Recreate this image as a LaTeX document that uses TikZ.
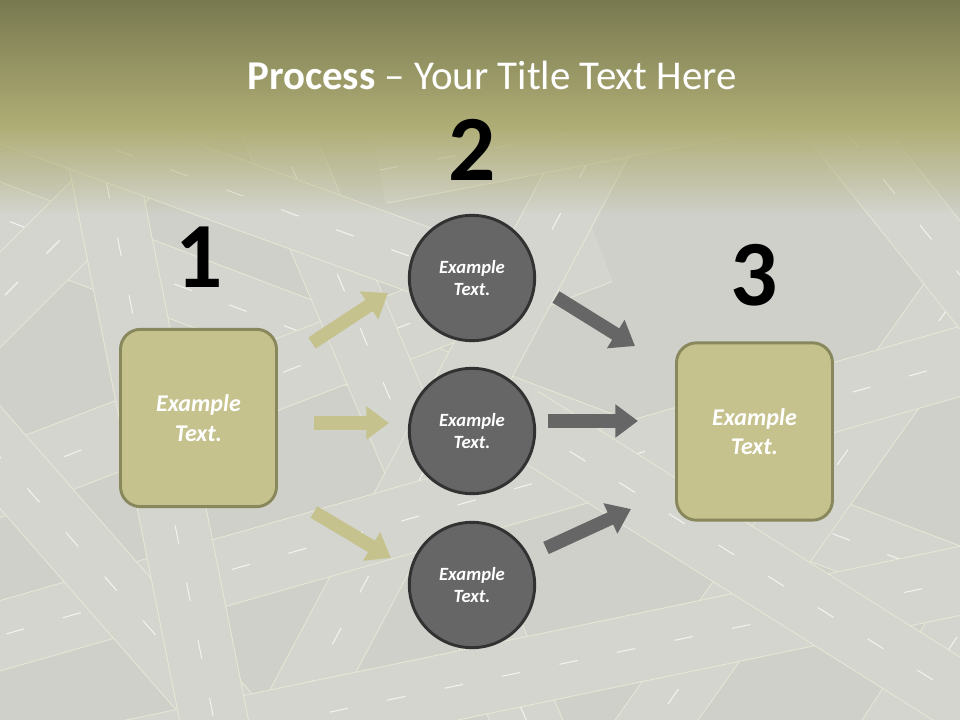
\documentclass[tikz,border=0pt]{standalone}
\usepackage{fontspec}
\setmainfont{Carlito}
\usetikzlibrary{shapes,arrows.meta,fadings}

\definecolor{bggray}{RGB}{207,208,201}
\definecolor{roadfill}{RGB}{212,213,207}
\definecolor{roadedge}{RGB}{232,232,214}
\definecolor{oliveTop}{RGB}{120,121,80}
\definecolor{oliveBand}{RGB}{176,174,118}
\definecolor{boxfill}{RGB}{197,194,141}
\definecolor{boxedge}{RGB}{136,136,92}
\definecolor{circfill}{RGB}{102,102,102}
\definecolor{circedge}{RGB}{50,50,50}

\tikzfading[name=fadedown, top color=transparent!0, bottom color=transparent!100]

\tikzset{
  road/.style={draw=roadedge, line width=0.7pt, double=roadfill, double distance=50pt},
  roadmark/.style={white, line width=0.8pt, opacity=0.7, dash pattern=on 14pt off 30pt},
  stagebox/.style={draw=boxedge, fill=boxfill, line width=2.2pt, rounded corners=15pt,
    minimum width=117pt, minimum height=133pt, align=center, text=white,
    font=\fontsize{18}{22}\selectfont\bfseries\itshape},
  stagecirc/.style={circle, draw=circedge, fill=circfill, line width=2.2pt,
    minimum size=94pt, align=center, text=white,
    font=\fontsize{14}{17}\selectfont\bfseries\itshape},
  stepnum/.style={font=\fontsize{70}{70}\selectfont\bfseries, text=black},
  olivearrow/.style={draw=boxfill, line width=10pt, -{Triangle[width=24pt,length=17pt]}},
  grayarrow/.style={draw=circfill, line width=10pt, -{Triangle[width=24pt,length=17pt]}}
}

\begin{document}
\begin{tikzpicture}[x=0.75pt, y=-0.75pt]

    % Background
    \useasboundingbox (0,0) rectangle (960,720);
    \fill[bggray] (0,0) rectangle (960,720);
    \begin{scope}
    \clip (0,0) rectangle (960,720);
    \foreach \xa/\ya/\xb/\yb in {-100/180/1060/620, -100/520/600/250, 200/-50/560/800,
        250/800/700/-50, 600/800/1060/150, -50/650/1000/350, 700/-50/1060/400,
        -50/400/300/800, 350/-50/-50/350, 850/800/1060/480, 380/170/1060/40,
        100/760/1060/560, 60/-50/230/800, -50/90/420/260, 520/420/1060/760}{
      \draw[road] (\xa,\ya) -- (\xb,\yb);
      \draw[roadmark] (\xa,\ya) -- (\xb,\yb);
    }
    \end{scope}

    % Title band
    \fill[top color=oliveTop, bottom color=oliveBand] (0,0) rectangle (960,128);
    \fill[oliveBand, path fading=fadedown] (0,127) rectangle (960,215);

    % Title
    \node[text=white, font=\fontsize{30.7}{36}\selectfont] (title) at (492,75)
      {\textbf{Process} – Your Title Text Here};

    % Numbers
    \node[stepnum] (n1) at (199,257) {1};
    \node[stepnum] (n2) at (472,150) {2};
    \node[stepnum] (n3) at (754,275) {3};

    % Boxes
    \node[stagebox] (start) at (198.5,418) {Example\\Text.};
    \node[stagebox] (finish) at (754.5,431.5) {Example\\Text.};

    % Circles
    \node[stagecirc] (top) at (472,278) {Example\\Text.};
    \node[stagecirc] (mid) at (472,431) {Example\\Text.};
    \node[stagecirc] (bot) at (472,585) {Example\\Text.};

    % ================================
    % Arrows

    \coordinate (la1) at (312,343);
    \coordinate (lb1) at (388,293);
    \coordinate (la2) at (314,423);
    \coordinate (lb2) at (389,423);
    \coordinate (la3) at (314,512);
    \coordinate (lb3) at (391,558);
    \draw[olivearrow] (la1) -- (lb1);
    \draw[olivearrow] (la2) -- (lb2);
    \draw[olivearrow] (la3) -- (lb3);

    \coordinate (ra1) at (556,297);
    \coordinate (rb1) at (635,346);
    \coordinate (ra2) at (548,421);
    \coordinate (rb2) at (638,421);
    \coordinate (ra3) at (546,548);
    \coordinate (rb3) at (631,509);
    \draw[grayarrow] (ra1) -- (rb1);
    \draw[grayarrow] (ra2) -- (rb2);
    \draw[grayarrow] (ra3) -- (rb3);

\end{tikzpicture}
\end{document}
